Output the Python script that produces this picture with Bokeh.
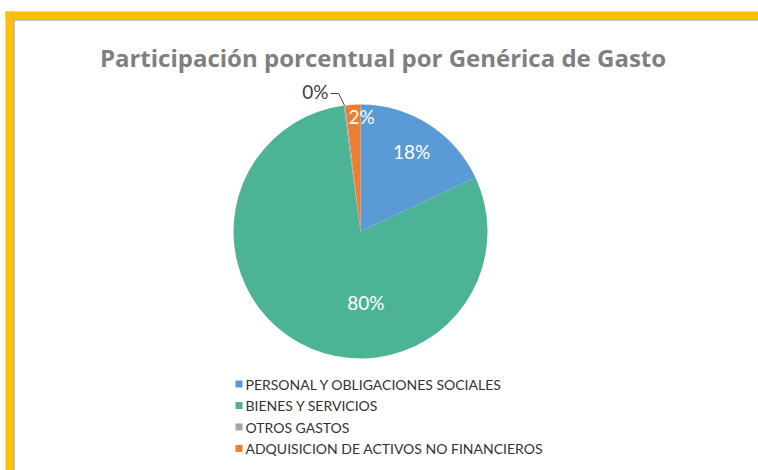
import math
from bokeh.plotting import figure
from bokeh.models import Range1d, ColumnDataSource
from bokeh.core.properties import value
from bokeh.embed import file_html
from bokeh.resources import INLINE

# ---- data ----
categories = ["PERSONAL Y OBLIGACIONES SOCIALES", "BIENES Y SERVICIOS",
              "OTROS GASTOS", "ADQUISICION DE ACTIVOS NO FINANCIEROS"]
shares = [18.0, 79.9, 0.2, 1.9]
colors = ["#5B9BD5", "#4CB397", "#A5A5A5", "#ED7D31"]
title_text = "Participación porcentual por Genérica de Gasto"

# ---- layout (style) ----
W, H = 758, 470
CX, CY, R = 360, 239, 127
FONT = "Lato"
# label placement: (radius fraction, angle shift in degrees clockwise), None = outside w/ leader
label_place = [(0.75, 0.0), (0.56, -33.0), None, (0.905, 4.0)]

p = figure(width=W, height=H, output_backend="svg", toolbar_location=None,
           x_range=Range1d(0, W), y_range=Range1d(0, H),
           x_axis_location=None, y_axis_location=None, min_border=0)
p.grid.visible = False
p.outline_line_color = None
p.background_fill_color = "white"
p.border_fill_color = "white"

# frame border (yellow band + grey inner line)
p.quad(left=5, right=W + 5, bottom=451, top=459, fill_color="#FFC000", line_color=None)
p.quad(left=5, right=13, bottom=-5, top=459, fill_color="#FFC000", line_color=None)
p.segment(x0=[13.5, 13.5], y0=[-5, 450.5], x1=[13.5, W + 5], y1=[450.5, 450.5],
          line_color="#8C8C8C", line_width=1)

# wedges
total = sum(shares)
starts, ends, mids = [], [], []
cum = 0.0
for s in shares:
    a0 = math.pi / 2 - cum / total * 2 * math.pi
    cum += s
    a1 = math.pi / 2 - cum / total * 2 * math.pi
    starts.append(a0)
    ends.append(a1)
    mids.append((a0 + a1) / 2)

src = ColumnDataSource(dict(start=starts, end=ends, color=colors))
p.wedge(x=CX, y=CY, radius=R, start_angle="start", end_angle="end",
        direction="clock", fill_color="color", line_color=None, source=src)

# data labels
for i, s in enumerate(shares):
    txt = f"{round(s / total * 100):.0f}%"
    place = label_place[i]
    if place is not None:
        rf, shift = place
        ang = mids[i] - math.radians(shift)
        lx = CX + rf * R * math.cos(ang)
        ly = CY + rf * R * math.sin(ang)
        p.text(x=[lx], y=[ly], text=[txt], text_color="white",
               text_font=value(FONT), text_font_size="19px",
               text_align="center", text_baseline="middle")
    else:
        ex = CX + R * math.cos(mids[i])
        ey = CY + R * math.sin(mids[i])
        kx, ky = ex - 6, ey + 12
        hx = kx - 8
        p.line(x=[ex, kx, hx], y=[ey, ky, ky], line_color="#404040", line_width=1)
        p.text(x=[hx - 2], y=[ky + 2], text=[txt], text_color="#404040",
               text_font=value(FONT), text_font_size="19px",
               text_align="right", text_baseline="middle")

# title
p.text(x=[382.5], y=[413], text=[title_text], text_color="#7F7F7F",
       text_font=value("Open Sans"), text_font_size="24px", text_font_style="bold",
       text_align="center", text_baseline="alphabetic")

# legend
ly0, dy = 86.5, 21.5
leg_y = [ly0 - i * dy for i in range(len(categories))]
p.rect(x=[238.5] * len(categories), y=leg_y, width=7, height=7,
       fill_color=colors, line_color=None)
p.text(x=[245] * len(categories), y=leg_y, text=categories, text_color="#333333",
       text_font=value(FONT), text_font_size="14px",
       text_align="left", text_baseline="middle")

open("out.html", "w").write(file_html(p, INLINE))
